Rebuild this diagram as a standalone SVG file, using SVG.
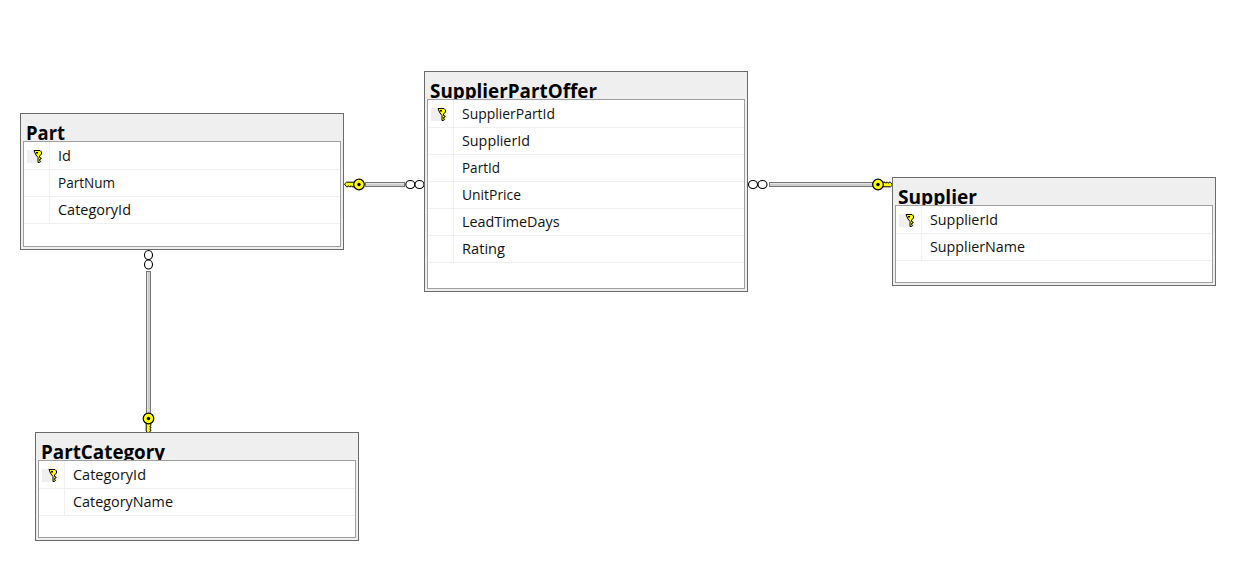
<svg xmlns="http://www.w3.org/2000/svg" width="1235" height="582" viewBox="0 0 1235 582">
<style>
.outer{fill:#efefef;stroke:#6a6a6a;stroke-width:1}
.inner{fill:#fff;stroke:#a0a0a0;stroke-width:1}
.sep{stroke:#f0f0f0;stroke-width:1;fill:none}
.title{font:bold 19px "Open Sans","Noto Sans","Liberation Sans",sans-serif;fill:#000}
.row{font:14.2px "Open Sans","Noto Sans","Liberation Sans",sans-serif;fill:#111}
.hl{fill:#efefef}
.band{fill:#e4e4e4;stroke:#777;stroke-width:1}
.mid{stroke:#b5b5b5;stroke-width:1;fill:none}
.ring{fill:#fff;stroke:#000;stroke-width:1.1}
.key{fill:#ffff00;stroke:#000;stroke-width:1;stroke-linejoin:round}
</style>
<defs>
<g id="pk">
<path class="key" d="M-3.500-5.500h6l1.500 1.500v2l-2 2v1.500l1.500 .5v1l-1.500 .5v1l1 .5-1 1.500h-1.500v-5l-2-2.500-1-2z"/>
<rect x="-1.500" y="-4" width="2" height="1.500" fill="#000"/>
</g>
<g id="ck">
<path class="key" d="M-2.300 4V12.500L-.5 14.500 2.300 12.500V11L1.200 10.500 2.300 9.500V8.500L1.200 8 2.300 7V4z"/>
<circle cx="0" cy="0" r="5.300" fill="#ffff00" stroke="#000" stroke-width="1.200"/>
<circle cx="0" cy="0" r="1.700" fill="#000"/>
</g>
<clipPath id="cp-part"><rect x="20" y="113" width="323" height="28"/></clipPath>
<clipPath id="cp-spo"><rect x="424" y="71" width="323" height="28"/></clipPath>
<clipPath id="cp-sup"><rect x="892" y="177" width="323" height="28"/></clipPath>
<clipPath id="cp-cat"><rect x="35" y="432" width="323" height="28"/></clipPath>
</defs>

<g id="connectors">
<g id="part-offer">
<rect class="band" x="365.500" y="182.500" width="39" height="4"/>
<line class="mid" x1="366" y1="185" x2="404" y2="185"/>
<ellipse class="ring" cx="410.300" cy="184.500" rx="4.500" ry="4"/>
<ellipse class="ring" cx="419.500" cy="184.500" rx="4.500" ry="4"/>
<use href="#ck" transform="translate(359 184.500) rotate(90)"/>
</g>
<g id="offer-supplier">
<rect class="band" x="769.500" y="182.500" width="103" height="4"/>
<line class="mid" x1="770" y1="185" x2="872" y2="185"/>
<ellipse class="ring" cx="753" cy="184.500" rx="4.500" ry="4"/>
<ellipse class="ring" cx="762.500" cy="184.500" rx="4.500" ry="4"/>
<use href="#ck" transform="translate(878 184.500) rotate(-90)"/>
</g>
<g id="part-category">
<rect class="band" x="146.500" y="271.500" width="4" height="143"/>
<line class="mid" x1="149" y1="272" x2="149" y2="414"/>
<ellipse class="ring" cx="148.500" cy="255" rx="4" ry="4.500"/>
<ellipse class="ring" cx="148.500" cy="264.500" rx="4" ry="4.500"/>
<use href="#ck" transform="translate(148.500 418.500)"/>
</g>
</g>

<g id="part">
<rect class="outer" x="20.500" y="113.500" width="323" height="136"/>
<rect class="inner" x="23.500" y="141.500" width="317" height="105"/>
<text class="title" x="26" y="139.500" clip-path="url(#cp-part)" textLength="39" lengthAdjust="spacingAndGlyphs">Part</text>
<path class="sep" d="M24 169.500H340M24 196.500H340M24 223.500H340M49.500 142V223"/>
<rect class="hl" x="27" y="150" width="15" height="13"/>
<use href="#pk" transform="translate(37.500 156)"/>
<text class="row" x="58" y="161" textLength="13" lengthAdjust="spacingAndGlyphs">Id</text>
<text class="row" x="58" y="188" textLength="57" lengthAdjust="spacingAndGlyphs">PartNum</text>
<text class="row" x="58" y="215" textLength="73" lengthAdjust="spacingAndGlyphs">CategoryId</text>
</g>

<g id="supplierpartoffer">
<rect class="outer" x="424.500" y="71.500" width="323" height="220"/>
<rect class="inner" x="427.500" y="99.500" width="317" height="189"/>
<text class="title" x="430" y="97.500" clip-path="url(#cp-spo)" textLength="167" lengthAdjust="spacingAndGlyphs">SupplierPartOffer</text>
<path class="sep" d="M428 127.500H744M428 154.500H744M428 181.500H744M428 208.500H744M428 235.500H744M428 262.500H744M453.500 100V262"/>
<rect class="hl" x="431" y="108" width="15" height="13"/>
<use href="#pk" transform="translate(441.500 114)"/>
<text class="row" x="462" y="119" textLength="93" lengthAdjust="spacingAndGlyphs">SupplierPartId</text>
<text class="row" x="462" y="146" textLength="68" lengthAdjust="spacingAndGlyphs">SupplierId</text>
<text class="row" x="462" y="173" textLength="38" lengthAdjust="spacingAndGlyphs">PartId</text>
<text class="row" x="462" y="200" textLength="59" lengthAdjust="spacingAndGlyphs">UnitPrice</text>
<text class="row" x="462" y="227" textLength="97.500" lengthAdjust="spacingAndGlyphs">LeadTimeDays</text>
<text class="row" x="462" y="254" textLength="43" lengthAdjust="spacingAndGlyphs">Rating</text>
</g>

<g id="supplier">
<rect class="outer" x="892.500" y="177.500" width="323" height="108"/>
<rect class="inner" x="895.500" y="205.500" width="317" height="77"/>
<text class="title" x="898" y="203.500" clip-path="url(#cp-sup)" textLength="79" lengthAdjust="spacingAndGlyphs">Supplier</text>
<path class="sep" d="M896 233.500H1212M896 260.500H1212M921.500 206V260"/>
<rect class="hl" x="899" y="214" width="15" height="13"/>
<use href="#pk" transform="translate(909.500 220)"/>
<text class="row" x="930" y="225" textLength="68" lengthAdjust="spacingAndGlyphs">SupplierId</text>
<text class="row" x="930" y="252" textLength="95" lengthAdjust="spacingAndGlyphs">SupplierName</text>
</g>

<g id="partcategory">
<rect class="outer" x="35.500" y="432.500" width="323" height="108"/>
<rect class="inner" x="38.500" y="460.500" width="317" height="77"/>
<text class="title" x="41" y="458.500" clip-path="url(#cp-cat)" textLength="124" lengthAdjust="spacingAndGlyphs">PartCategory</text>
<path class="sep" d="M39 488.500H355M39 515.500H355M64.500 461V515"/>
<rect class="hl" x="42" y="469" width="15" height="13"/>
<use href="#pk" transform="translate(52.500 475)"/>
<text class="row" x="73" y="480" textLength="73" lengthAdjust="spacingAndGlyphs">CategoryId</text>
<text class="row" x="73" y="507" textLength="100" lengthAdjust="spacingAndGlyphs">CategoryName</text>
</g>
</svg>
